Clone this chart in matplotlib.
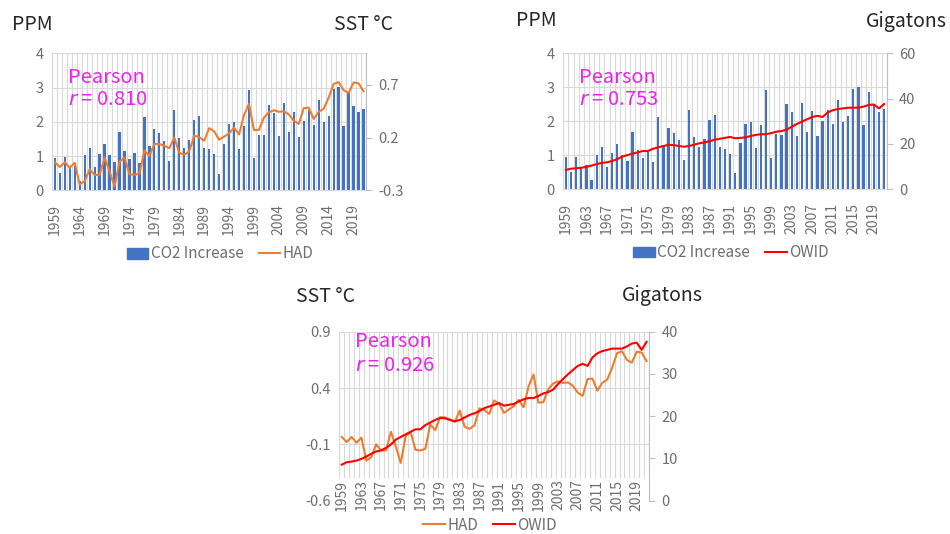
import numpy as np
import matplotlib.pyplot as plt
from matplotlib.patches import Patch
from matplotlib.lines import Line2D

plt.rcParams['font.family'] = ['Noto Sans CJK JP', 'DejaVu Sans']
plt.rcParams['mathtext.fontset'] = 'dejavusans'

# Annual data 1959-2021
years = list(range(1959, 2022))
co2_increase = [0.94, 0.50, 0.96, 0.64, 0.71, 0.28, 1.02, 1.24, 0.67, 1.06,
                1.34, 1.02, 0.82, 1.70, 1.16, 0.92, 1.09, 0.79, 2.14, 1.29,
                1.80, 1.66, 1.45, 0.85, 2.34, 1.53, 1.24, 1.47, 2.04, 2.18,
                1.24, 1.20, 1.05, 0.48, 1.36, 1.93, 1.98, 1.22, 1.88, 2.93,
                0.93, 1.62, 1.60, 2.50, 2.27, 1.58, 2.55, 1.69, 2.29, 1.56,
                2.01, 2.33, 1.91, 2.63, 1.98, 2.16, 2.95, 3.02, 1.88, 2.86,
                2.47, 2.28, 2.36]  # ppm / year
had_sst = [-0.034, -0.079, -0.034, -0.085, -0.04, -0.244, -0.214, -0.1, -0.154, -0.154,
           0.011, -0.12, -0.265, -0.028, 0.011, -0.148, -0.154, -0.139, 0.077, 0.026,
           0.14, 0.14, 0.122, 0.10, 0.2, 0.056, 0.038, 0.07, 0.22, 0.205,
           0.17, 0.29, 0.26, 0.18, 0.21, 0.24, 0.295, 0.23, 0.415, 0.52,
           0.27, 0.274, 0.39, 0.44, 0.46, 0.445, 0.45, 0.42, 0.36, 0.33,
           0.48, 0.484, 0.376, 0.445, 0.475, 0.58, 0.71, 0.726, 0.65, 0.625,
           0.723, 0.715, 0.64]  # deg C anomaly
owid_co2 = [8.54, 9.1, 9.26, 9.5, 9.9, 10.46, 11.1, 11.66, 11.9, 12.5,
            13.3, 14.45, 15.1, 15.7, 16.3, 16.9, 16.9, 17.9, 18.5, 19.1,
            19.6, 19.5, 19.1, 18.8, 19.1, 19.7, 20.3, 20.7, 21.2, 21.9,
            22.3, 22.7, 23.1, 22.5, 22.7, 22.9, 23.5, 24.0, 24.3, 24.3,
            24.8, 25.4, 25.7, 26.3, 27.6, 28.8, 29.9, 30.9, 31.9, 32.4,
            31.9, 33.9, 34.9, 35.4, 35.7, 36.0, 36.0, 36.0, 36.5, 37.2,
            37.4, 35.7, 37.6]  # gigatons
pearson_r = {'had': 0.810, 'owid': 0.753, 'had_owid': 0.926}

BLUE = '#4472C4'
ORANGE = '#ED7D31'
RED = '#FF0000'
GRID = '#D9D9D9'
TICK = '#6E6E6E'
MAGENTA = '#EE22EE'

W, H = 950, 534
fig = plt.figure(figsize=(W / 100, H / 100), dpi=100)


def rect(left, top, right, bottom):
    return [left / W, 1 - bottom / H, (right - left) / W, (bottom - top) / H]


x = np.arange(len(years))


def setup_axis(ax, label_step, hlines, ylim, yticks, base_y, pad):
    ax.set_xlim(-0.5, len(years) - 0.5)
    ax.set_ylim(*ylim)
    ax.set_yticks(yticks)
    ax.set_yticklabels([f'{t:g}' for t in yticks])
    ax.set_xticks(x[::label_step])
    ax.set_xticklabels([str(y) for y in years[::label_step]])
    ax.tick_params(axis='x', length=0, pad=pad, labelsize=10, colors=TICK,
                   labelrotation=90)
    ax.tick_params(axis='y', length=0, pad=6, labelsize=10.5, colors=TICK)
    for s in ['top', 'right', 'left']:
        ax.spines[s].set_visible(False)
    ax.spines['bottom'].set_color(GRID)
    ax.spines['bottom'].set_position(('data', base_y))
    # one vertical gridline between every pair of years
    ax.vlines(np.arange(-0.5, len(years)), base_y, ylim[1], color=GRID, lw=0.8, zorder=0)
    for h in hlines:
        ax.axhline(h, color=GRID, lw=0.8, zorder=0)


def setup_right(ax2, ylim, yticks):
    ax2.set_ylim(*ylim)
    ax2.set_yticks(yticks)
    ax2.set_yticklabels([f'{t:g}' for t in yticks])
    ax2.tick_params(axis='y', length=4, width=0.8, color='#BFBFBF', pad=5,
                    labelsize=10.5, labelcolor=TICK)
    for s in ['top', 'left', 'bottom']:
        ax2.spines[s].set_visible(False)
    ax2.spines['right'].set_color('#BFBFBF')


def pearson(ax, r, y1, y2):
    ax.text(0.05, y1, 'Pearson', transform=ax.transAxes, color=MAGENTA,
            fontsize=14.5, va='center', ha='left')
    ax.text(0.05, y2, f'$r$ = {r:.3f}', transform=ax.transAxes, color=MAGENTA,
            fontsize=14.5, va='center', ha='left')


def legend(handles, cx, cy):
    fig.legend(handles=handles, loc='center', bbox_to_anchor=(cx / W, 1 - cy / H),
               ncol=2, frameon=False, fontsize=11, handlelength=1.4,
               handletextpad=0.15, columnspacing=1.0, labelcolor=TICK,
               borderpad=0.2)


# --- CO2 increase vs HAD SST ---
ax1 = fig.add_axes(rect(52.3, 53.3, 366, 190.3))
setup_axis(ax1, 5, [1, 2, 3, 4], (0, 4), [0, 1, 2, 3, 4], 0, 10)
ax1.bar(x, co2_increase, width=0.45, color=BLUE, zorder=2)
ax1r = ax1.twinx()
setup_right(ax1r, (-0.3, 1.0), [-0.3, 0.2, 0.7])
ax1r.plot(x, had_sst, color=ORANGE, lw=1.5)
pearson(ax1, pearson_r['had'], 0.82, 0.66)
fig.text(12 / W, 1 - 24 / H, 'PPM', fontsize=14, va='center', ha='left', color='#262626')
fig.text(393 / W, 1 - 24 / H, 'SST °C', fontsize=14, va='center', ha='right', color='#262626')
legend([Patch(color=BLUE, label='CO2 Increase'),
        Line2D([], [], color=ORANGE, lw=1.5, label='HAD')], 220, 254)

# --- CO2 increase vs OWID emissions ---
ax2 = fig.add_axes(rect(563.3, 53.3, 886.7, 189.3))
setup_axis(ax2, 4, [1, 2, 3, 4], (0, 4), [0, 1, 2, 3, 4], 0, 10)
ax2.bar(x, co2_increase, width=0.45, color=BLUE, zorder=2)
ax2r = ax2.twinx()
setup_right(ax2r, (0, 60), [0, 20, 40, 60])
ax2r.plot(x, owid_co2, color=RED, lw=1.5)
pearson(ax2, pearson_r['owid'], 0.82, 0.66)
fig.text(516 / W, 1 - 21 / H, 'PPM', fontsize=14, va='center', ha='left', color='#262626')
fig.text(947 / W, 1 - 22 / H, 'Gigatons', fontsize=14, va='center', ha='right', color='#262626')
legend([Patch(color=BLUE, label='CO2 Increase'),
        Line2D([], [], color=RED, lw=1.5, label='OWID')], 731, 253)

# --- HAD SST vs OWID emissions ---
ax3 = fig.add_axes(rect(339.3, 331.7, 649, 500.7))
setup_axis(ax3, 4, [-0.1, 0.4, 0.9], (-0.6, 0.9), [-0.6, -0.1, 0.4, 0.9], -0.4, 1)
ax3.spines['bottom'].set_visible(False)
ax3.plot(x, had_sst, color=ORANGE, lw=1.5, zorder=3)
ax3r = ax3.twinx()
setup_right(ax3r, (0, 40), [0, 10, 20, 30, 40])
ax3r.plot(x, owid_co2, color=RED, lw=1.5)
pearson(ax3, pearson_r['had_owid'], 0.94, 0.80)
fig.text(296 / W, 1 - 297 / H, 'SST °C', fontsize=14, va='center', ha='left', color='#262626')
fig.text(703 / W, 1 - 296 / H, 'Gigatons', fontsize=14, va='center', ha='right', color='#262626')
legend([Line2D([], [], color=ORANGE, lw=1.5, label='HAD'),
        Line2D([], [], color=RED, lw=1.5, label='OWID')], 490, 525)

fig.savefig('out.png', dpi=100)
